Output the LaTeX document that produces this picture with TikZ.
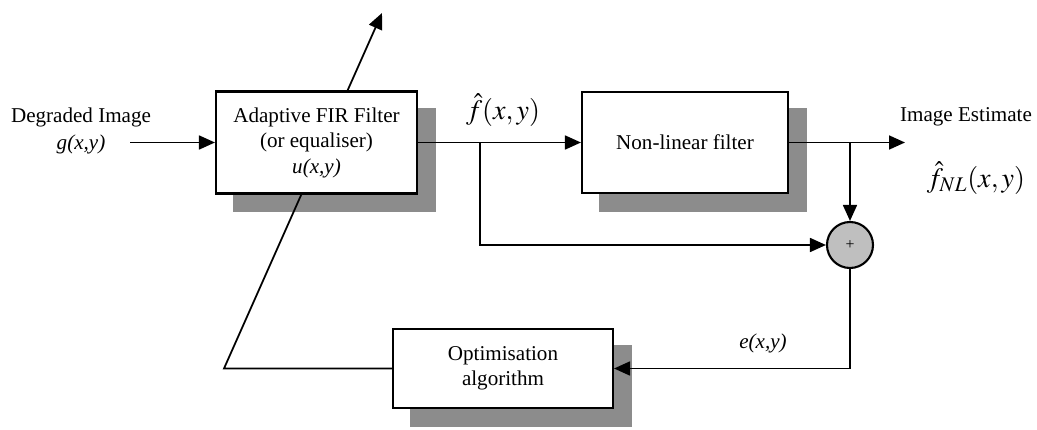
\documentclass[tikz,border=0pt]{standalone}
\usepackage{mathptmx}
\usepackage[no-math]{fontspec}
\setmainfont{Liberation Serif}
\usepackage{tikz}
\usetikzlibrary{arrows.meta}
\usetikzlibrary{calc}

\pgfdeclarelayer{back}
\pgfsetlayers{back,main}

\begin{document}
\begin{tikzpicture}[
	font=\fontsize{12}{14.5}\selectfont,
	blk/.style={draw,line width=1.2pt,fill=white,align=center,inner sep=0pt},
	sig/.style={line width=1pt,-{Triangle[length=0.32cm,width=0.28cm]}},
	shadowfill/.style={fill=black!45},
	]
	\useasboundingbox (0,0) rectangle (20.74,8.6);
	
	% the three blocks
	\node[blk,minimum width=4.02cm,minimum height=2.04cm] (fir) at (6.33,5.75) {Adaptive FIR Filter\\(or equaliser)\\\textit{u(x,y)}};
	\node[blk,minimum width=4.12cm,minimum height=2.02cm] (nlf) at (13.70,5.75) {Non-linear filter};
	\node[blk,minimum width=4.40cm,minimum height=1.58cm] (opt) at (10.06,1.23) {Optimisation\\algorithm};
	
	% summing junction
	\node[draw,circle,line width=1.2pt,fill=black!25,minimum size=0.92cm,inner sep=0pt,font=\small] (sum) at (17.00,3.70) {+};
	
	% labels
	\node[align=center,font=\fontsize{12}{15}\selectfont] (inlbl) at (1.62,5.98) {Degraded Image\\\textit{g(x,y)}};
	\node (fhat) at (10.06,6.40) {\fontsize{16}{18}\selectfont $\hat{f}(x, y)$};
	\node (est) at (19.32,6.27) {Image Estimate};
	\node (estf) at (19.52,5.04) {\fontsize{16}{18}\selectfont $\hat{f}_{NL}(x, y)$};
	\node (elbl) at (15.26,1.74) {\textit{e(x,y)}};
	
	% free ends and branch points
	\coordinate (gin) at (2.60,5.75);
	\coordinate (split) at (9.60,5.75);
	\coordinate (tap) at (17.00,5.75);
	\coordinate (gout) at (18.10,5.75);
	\coordinate (bend) at (4.48,1.23);
	\coordinate (adapt) at (7.64,8.34);
	
	% shadows and the adaptation arrow go behind the blocks
	\begin{pgfonlayer}{back}
	\fill[shadowfill] ($(fir.south west)+(0.36,-0.35)$) rectangle ($(fir.north east)+(0.36,-0.35)$);
	\fill[shadowfill] ($(nlf.south west)+(0.36,-0.35)$) rectangle ($(nlf.north east)+(0.36,-0.35)$);
	\fill[shadowfill] ($(opt.south west)+(0.36,-0.35)$) rectangle ($(opt.north east)+(0.36,-0.35)$);
	\draw[sig] (opt.west) -- (bend) -- (adapt);
	\end{pgfonlayer}
	
	% signal flow
	\draw[sig] (gin) -- (fir);
	\draw[sig] (fir) -- (nlf);
	\draw[sig] (split) |- (sum);
	\draw[sig] (nlf) -- (gout);
	\draw[sig] (tap) -- (sum);
	\draw[sig] (sum) |- (opt);
\end{tikzpicture}
\end{document}
